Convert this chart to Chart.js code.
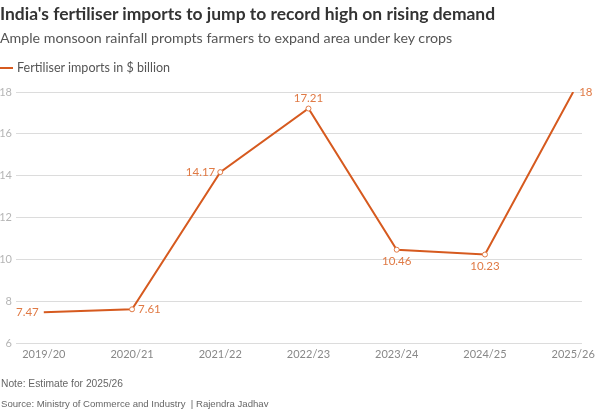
<!DOCTYPE html>
<html><head><meta charset="utf-8">
<script src="https://cdn.jsdelivr.net/npm/chart.js@4/dist/chart.umd.min.js"></script>
<style>
html,body{margin:0;padding:0;background:#fff;}
#wrap{position:relative;width:600px;height:410px;overflow:hidden;font-family:Lato,sans-serif;}
#wrap canvas{position:absolute;left:0;top:0;}
.t{position:absolute;left:0;white-space:nowrap;line-height:1;}
#title{top:5px;font-weight:bold;font-size:17.4px;color:#333;}
#sub{top:31px;font-size:14.2px;color:#555;}
#leg{top:61px;left:0;font-size:13px;color:#555;}
#leg span.ln{display:inline-block;width:13px;height:2px;background:#d65a1f;vertical-align:middle;margin-right:4px;position:relative;top:-1px;}
#note{top:379px;left:1px;font-size:11px;color:#666;font-family:'Liberation Sans Narrow',sans-serif;}
#src{top:399px;left:1px;font-size:11px;color:#666;font-family:'Liberation Sans Narrow',sans-serif;}
</style></head>
<body>
<div id="wrap">
<canvas id="c" width="600" height="410"></canvas>
<div class="t" id="title" data-w="495">India's fertiliser imports to jump to record high on rising demand</div>
<div class="t" id="sub" data-w="452">Ample monsoon rainfall prompts farmers to expand area under key crops</div>
<div class="t" id="leg"><span class="ln"></span><span id="legtxt" data-w="153">Fertiliser imports in $ billion</span></div>
<div class="t" id="note" data-w="122">Note: Estimate for 2025/26</div>
<div class="t" id="src" data-w="268">Source: Ministry of Commerce and Industry&nbsp; | Rajendra Jadhav</div>
</div>
<script>
// ---- data ----
const categories = ["2019/20","2020/21","2021/22","2022/23","2023/24","2024/25","2025/26"];
const imports = [7.47, 7.61, 14.17, 17.21, 10.46, 10.23, 18];
const valueLabels = ["7.47","7.61","14.17","17.21","10.46","10.23","18"];
const yTicks = [6, 8, 10, 12, 14, 16, 18];

// fit text widths
document.querySelectorAll('[data-w]').forEach(el=>{
  const target=+el.dataset.w;
  const fs=parseFloat(getComputedStyle(el).fontSize);
  const w=el.getBoundingClientRect().width;
  if(w>0) el.style.fontSize=(fs*target/w).toFixed(2)+'px';
});

const LINE='#d65a1f', LABEL='#e07a45';
const labelPlace = ['left','right','left','above','below','below','right'];

const labelPlugin = {
  id:'valueLabels',
  afterDatasetsDraw(chart){
    const {ctx}=chart;
    const meta=chart.getDatasetMeta(0);
    ctx.save();
    ctx.font='11.5px Lato, sans-serif';
    ctx.fillStyle=LABEL;
    meta.data.forEach((pt,i)=>{
      const p=labelPlace[i];
      let x=pt.x, y=pt.y;
      if(p==='left'){ctx.textAlign='right';ctx.textBaseline='middle';x-=5;}
      else if(p==='right'){ctx.textAlign='left';ctx.textBaseline='middle';x+=6;}
      else if(p==='above'){ctx.textAlign='center';ctx.textBaseline='middle';y-=10;}
      else {ctx.textAlign='center';ctx.textBaseline='middle';y+=12;}
      ctx.fillText(valueLabels[i],x,y);
    });
    ctx.restore();
  }
};

new Chart(document.getElementById('c'),{
  type:'line',
  data:{datasets:[{
    data: imports.map((v,i)=>({x:i,y:v})),
    borderColor:LINE,
    borderWidth:2,
    tension:0,
    pointRadius:ctx=>(ctx.dataIndex===0||ctx.dataIndex===imports.length-1)?0:2.5,
    pointBackgroundColor:'#fff',
    pointBorderColor:LABEL,
    pointBorderWidth:1,
    fill:false
  }]},
  options:{
    responsive:false,
    animation:false,
    events:[],
    layout:{padding:{top:92,right:13,left:0,bottom:0}},
    plugins:{legend:{display:false},tooltip:{enabled:false}},
    scales:{
      x:{
        type:'linear',
        min:-0.315, max:6.1,
        afterBuildTicks(s){ s.ticks = categories.map((c,i)=>({value:i})); },
        afterFit(s){ s.height = 410-343; },
        grid:{display:false,drawTicks:false},
        border:{display:false},
        ticks:{
          callback:v=>categories[v],
          color:'#888',
          font:{family:'Lato',size:11},
          padding:5,
          maxRotation:0,
          autoSkip:false
        }
      },
      y:{
        min:6,max:18,
        afterBuildTicks(s){ s.ticks = yTicks.map(v=>({value:v})); },
        afterFit(s){ s.width = 16; },
        grid:{color:'#dcdcdc',lineWidth:1,drawTicks:false},
        border:{display:false},
        ticks:{color:'#b5b5b5',font:{family:'Lato',size:11},padding:4}
      }
    }
  },
  plugins:[labelPlugin]
});
</script>
</body></html>
